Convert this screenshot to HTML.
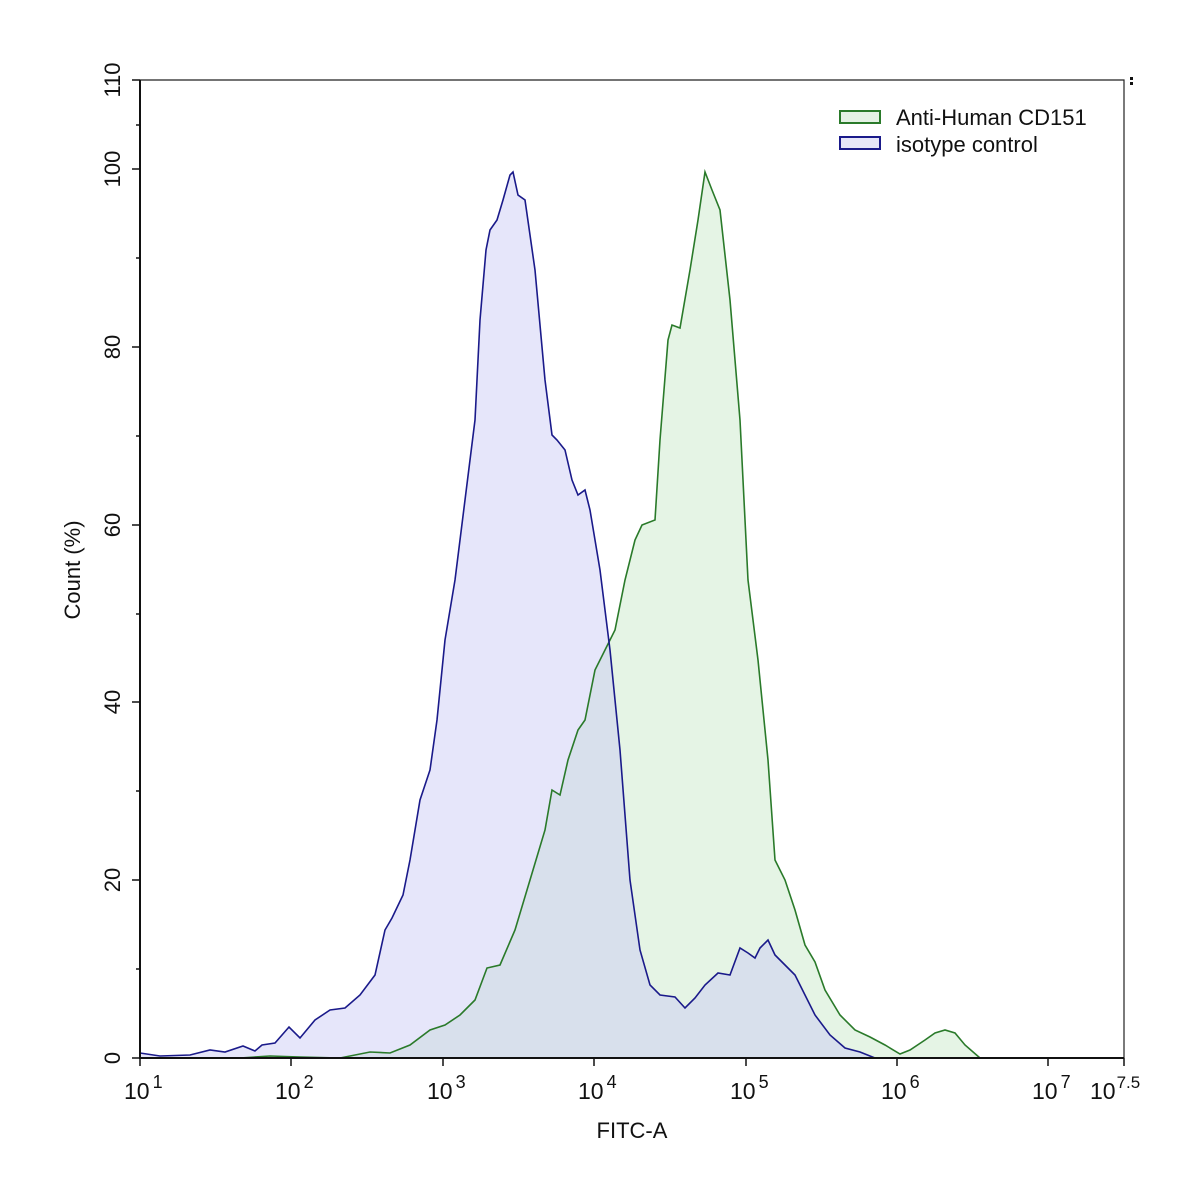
<!DOCTYPE html>
<html><head><meta charset="utf-8"><style>
html,body{margin:0;padding:0;background:#fff;}
svg{display:block;font-family:"Liberation Sans",Arial,sans-serif;}
</style></head><body>
<svg width="1197" height="1193" viewBox="0 0 1197 1193" xmlns="http://www.w3.org/2000/svg">
<rect width="1197" height="1193" fill="#fff"/>
<polygon fill="rgba(190,228,190,0.4)" stroke="none" points="240,1058 270,1056 300,1057 340,1058 370,1052 390,1053 410,1045 430,1030 445,1025 460,1015 475,1000 487,968 500,965 515,930 530,880 545,830 552,790 560,795 568,760 578,730 585,720 595,670 605,650 615,630 625,580 635,540 642,525 655,520 660,440 668,340 672,325 680,328 690,270 698,220 705,172 712,190 720,210 730,300 740,420 748,580 758,660 768,760 775,860 785,880 795,910 805,945 815,962 825,990 840,1015 855,1030 870,1037 885,1045 900,1054 910,1050 925,1040 935,1033 945,1030 955,1033 965,1045 980,1058"/>
<polygon fill="rgba(200,200,245,0.45)" stroke="none" points="140,1053 160,1056 190,1055 210,1050 225,1052 243,1046 255,1051 262,1045 275,1043 289,1027 300,1038 315,1020 330,1010 345,1008 360,995 375,975 385,930 392,918 403,895 410,860 420,800 430,770 437,720 445,640 455,580 465,500 475,420 480,320 486,250 490,230 497,220 503,200 510,175 513,172 518,195 525,200 535,270 545,380 552,435 557,440 565,450 572,480 578,495 585,490 590,510 600,570 610,650 620,750 630,880 640,950 650,985 660,995 675,997 685,1008 695,998 705,985 718,973 730,975 740,948 748,953 755,958 760,948 768,940 775,955 785,965 795,975 805,995 815,1015 830,1035 845,1048 860,1052 875,1058 140,1058"/>
<polyline fill="none" stroke="#2a7a2a" stroke-width="1.6" points="240,1058 270,1056 300,1057 340,1058 370,1052 390,1053 410,1045 430,1030 445,1025 460,1015 475,1000 487,968 500,965 515,930 530,880 545,830 552,790 560,795 568,760 578,730 585,720 595,670 605,650 615,630 625,580 635,540 642,525 655,520 660,440 668,340 672,325 680,328 690,270 698,220 705,172 712,190 720,210 730,300 740,420 748,580 758,660 768,760 775,860 785,880 795,910 805,945 815,962 825,990 840,1015 855,1030 870,1037 885,1045 900,1054 910,1050 925,1040 935,1033 945,1030 955,1033 965,1045 980,1058"/>
<polyline fill="none" stroke="#1a1a8a" stroke-width="1.6" points="140,1053 160,1056 190,1055 210,1050 225,1052 243,1046 255,1051 262,1045 275,1043 289,1027 300,1038 315,1020 330,1010 345,1008 360,995 375,975 385,930 392,918 403,895 410,860 420,800 430,770 437,720 445,640 455,580 465,500 475,420 480,320 486,250 490,230 497,220 503,200 510,175 513,172 518,195 525,200 535,270 545,380 552,435 557,440 565,450 572,480 578,495 585,490 590,510 600,570 610,650 620,750 630,880 640,950 650,985 660,995 675,997 685,1008 695,998 705,985 718,973 730,975 740,948 748,953 755,958 760,948 768,940 775,955 785,965 795,975 805,995 815,1015 830,1035 845,1048 860,1052 875,1058"/>
<path d="M140,80 H1124 V1058" fill="none" stroke="#222" stroke-width="1.2"/>
<path d="M140,80 V1058 H1124" fill="none" stroke="#111" stroke-width="2"/>
<g stroke="#111" stroke-width="1.5">
<line x1="132" y1="1058" x2="140" y2="1058"/><line x1="136" y1="969" x2="140" y2="969"/>
<line x1="132" y1="880" x2="140" y2="880"/><line x1="136" y1="791" x2="140" y2="791"/>
<line x1="132" y1="702" x2="140" y2="702"/><line x1="136" y1="614" x2="140" y2="614"/>
<line x1="132" y1="525" x2="140" y2="525"/><line x1="136" y1="436" x2="140" y2="436"/>
<line x1="132" y1="347" x2="140" y2="347"/><line x1="136" y1="258" x2="140" y2="258"/>
<line x1="132" y1="169" x2="140" y2="169"/><line x1="136" y1="125" x2="140" y2="125"/>
<line x1="132" y1="80" x2="140" y2="80"/>
</g>
<g stroke="#111" stroke-width="1.5">
<line x1="140" y1="1058" x2="140" y2="1066"/><line x1="291" y1="1058" x2="291" y2="1066"/><line x1="443" y1="1058" x2="443" y2="1066"/><line x1="594" y1="1058" x2="594" y2="1066"/><line x1="746" y1="1058" x2="746" y2="1066"/><line x1="897" y1="1058" x2="897" y2="1066"/><line x1="1048" y1="1058" x2="1048" y2="1066"/><line x1="1124" y1="1058" x2="1124" y2="1066"/>
</g>
<g stroke="#111" stroke-width="1.2" id="minor"></g>
<g font-size="22" fill="#111" text-anchor="middle">
<g transform="translate(120,1058) rotate(-90)"><text>0</text></g>
<g transform="translate(120,880) rotate(-90)"><text>20</text></g>
<g transform="translate(120,702) rotate(-90)"><text>40</text></g>
<g transform="translate(120,525) rotate(-90)"><text>60</text></g>
<g transform="translate(120,347) rotate(-90)"><text>80</text></g>
<g transform="translate(120,169) rotate(-90)"><text>100</text></g>
<g transform="translate(120,80) rotate(-90)"><text>110</text></g>
<g transform="translate(80,570) rotate(-90)"><text>Count  (%)</text></g>
<text x="632" y="1138">FITC-A</text>
</g>
<g font-size="23" fill="#111">
<text x="124" y="1099">10<tspan font-size="18" dx="3" dy="-11">1</tspan></text>
<text x="275" y="1099">10<tspan font-size="18" dx="3" dy="-11">2</tspan></text>
<text x="427" y="1099">10<tspan font-size="18" dx="3" dy="-11">3</tspan></text>
<text x="578" y="1099">10<tspan font-size="18" dx="3" dy="-11">4</tspan></text>
<text x="730" y="1099">10<tspan font-size="18" dx="3" dy="-11">5</tspan></text>
<text x="881" y="1099">10<tspan font-size="18" dx="3" dy="-11">6</tspan></text>
<text x="1032" y="1099">10<tspan font-size="18" dx="3" dy="-11">7</tspan></text>
<text x="1090" y="1099">10<tspan font-size="17" dx="1" dy="-11">7.5</tspan></text>
</g>
<rect x="840" y="111" width="40" height="12" fill="#e4f2e4" stroke="#2a7a2a" stroke-width="2"/>
<rect x="840" y="137" width="40" height="12" fill="#e6e6f8" stroke="#1a1a8a" stroke-width="2"/>
<g font-size="22" fill="#111">
<text x="896" y="125">Anti-Human CD151</text>
<text x="896" y="152">isotype control</text>
</g>
<rect x="1130" y="77" width="3" height="3" fill="#111"/><rect x="1130" y="82" width="3" height="3" fill="#111"/>
<script>
var g=document.getElementById('minor'),s='';
for(var d=1;d<8;d++){for(var k=2;k<10;k++){var x=140+151.4*(d-1+Math.log10(k));if(x<1124)s+='<line x1="'+x+'" y1="1058" x2="'+x+'" y2="1063"/>';}}
g.innerHTML=s;
</script>
</svg>
</body></html>
